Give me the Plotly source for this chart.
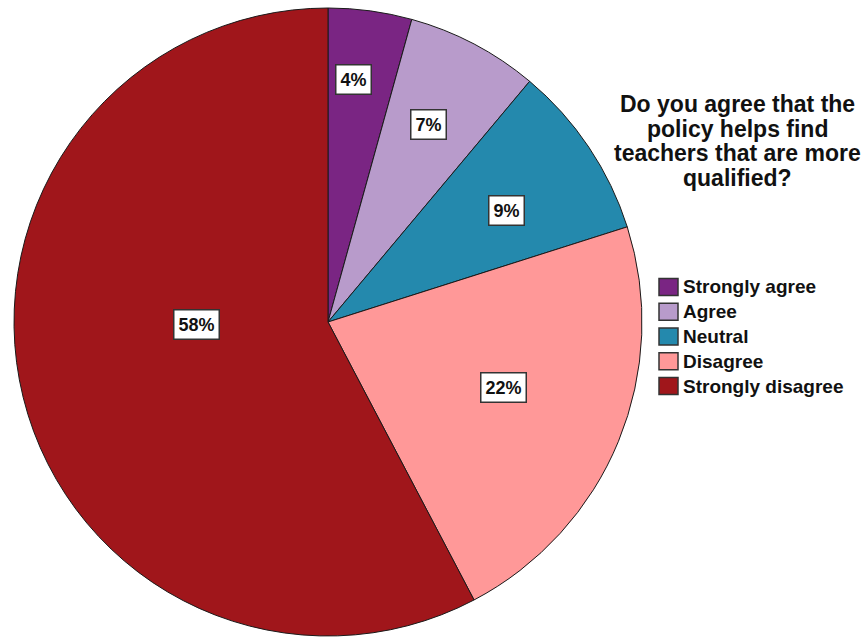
import math
import plotly.graph_objects as go

# Survey responses (share of respondents, %)
categories = ["Strongly agree", "Agree", "Neutral", "Disagree", "Strongly disagree"]
shares = [4.3, 6.8, 9.0, 22.2, 57.7]
colors = ["#7a2583", "#b89bcb", "#2489ad", "#ff9898", "#a0161b"]
title_lines = ["Do you agree that the", "policy helps find", "teachers that are more", "qualified?"]

W, H = 866, 637
FONT = "Liberation Sans, Arial, sans-serif"
NARROW = "Liberation Sans Narrow, Arial Narrow, Liberation Sans, sans-serif"


def paper(px, py):
    return px / W, 1 - py / H


# Pie placement (pixels)
cx, cy, R = 328, 322, 314
dom_x = [(cx - R) / W, (cx + R) / W]
dom_y = [1 - (cy + R) / H, 1 - (cy - R) / H]

fig = go.Figure(go.Pie(
    labels=categories,
    values=shares,
    sort=False,
    direction="clockwise",
    rotation=0,
    marker=dict(colors=colors, line=dict(color="#1a1a1a", width=1)),
    textinfo="none",
    hoverinfo="label+percent",
    domain=dict(x=dom_x, y=dom_y),
    showlegend=False,
))

annotations = []
shapes = []

# Boxed percentage labels placed inside each slice
radial_frac = [0.775, 0.705, 0.67, 0.595, 0.42]
angle_shift = [-1.8, -0.8, 1.9, -1.9, 12.6]
total = sum(shares)
cum = 0.0
for i, v in enumerate(shares):
    mid = (cum + v / 2) / total * 360 + angle_shift[i]
    cum += v
    r = R * radial_frac[i]
    x, y = paper(cx + r * math.sin(math.radians(mid)), cy - r * math.cos(math.radians(mid)))
    annotations.append(dict(
        x=x, y=y, xref="paper", yref="paper",
        text=f"<b>{round(v / total * 100):d}%</b>",
        showarrow=False,
        font=dict(family=NARROW, size=18, color="#111111"),
        bgcolor="white", bordercolor="#333333", borderwidth=1.5, borderpad=4,
        xanchor="center", yanchor="middle",
    ))

# Title, one line per annotation for tight line spacing
title_cx, title_top, title_pitch = 737, 104, 24.5
for k, line in enumerate(title_lines):
    x, y = paper(title_cx, title_top + k * title_pitch)
    annotations.append(dict(
        x=x, y=y, xref="paper", yref="paper",
        text=f"<b>{line}</b>", showarrow=False,
        font=dict(family=FONT, size=23, color="#111111"),
        xanchor="center", yanchor="middle",
    ))

# Legend: colour swatches with bold category names
leg_x, leg_y0, leg_pitch = 659, 287, 24.75
sw_w, sw_h = 19, 17
for k, (name, col) in enumerate(zip(categories, colors)):
    yc = leg_y0 + k * leg_pitch
    x0, y0 = paper(leg_x, yc - sw_h / 2)
    x1, y1 = paper(leg_x + sw_w, yc + sw_h / 2)
    shapes.append(dict(
        type="rect", xref="paper", yref="paper",
        x0=x0, x1=x1, y0=y1, y1=y0,
        fillcolor=col, line=dict(color="#333333", width=1.5),
    ))
    tx, ty = paper(leg_x + sw_w + 3, yc)
    annotations.append(dict(
        x=tx, y=ty, xref="paper", yref="paper",
        text=f"<b>{name}</b>", showarrow=False,
        font=dict(family=FONT, size=19, color="#111111"),
        xanchor="left", yanchor="middle",
    ))

fig.update_layout(
    width=W, height=H,
    margin=dict(l=0, r=0, t=0, b=0),
    paper_bgcolor="white", plot_bgcolor="white",
    showlegend=False,
    annotations=annotations,
    shapes=shapes,
)

fig.write_html("out.html")
